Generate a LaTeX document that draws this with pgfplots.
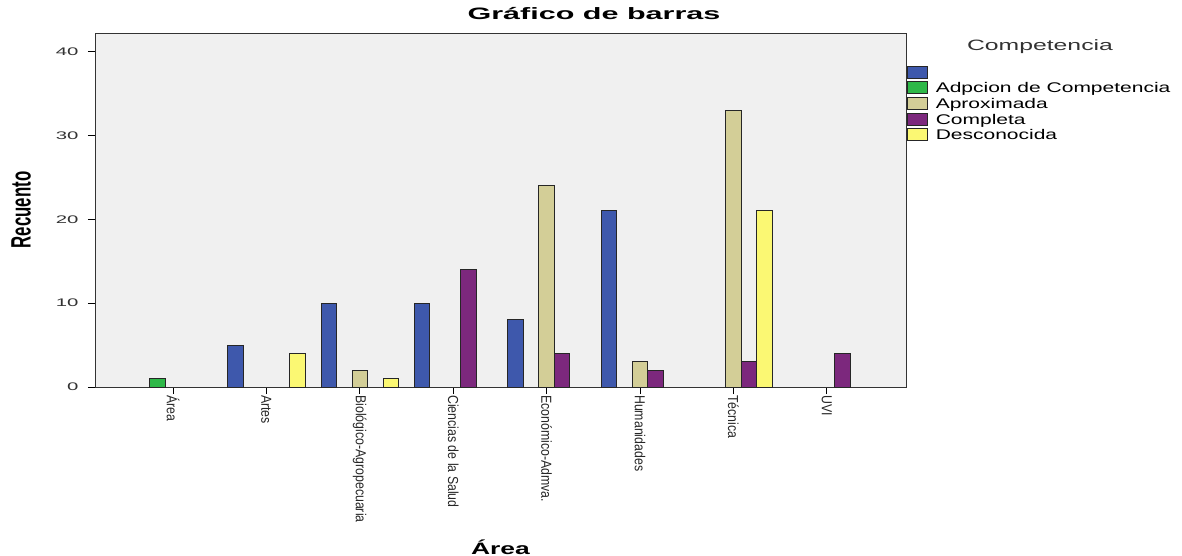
\documentclass[border=0pt]{standalone}
\usepackage{fontspec}
\setmainfont{Liberation Sans}
\newfontfamily\titlef[FakeStretch=1.85]{Liberation Sans}
\newfontfamily\xlabf[FakeStretch=1.6]{Liberation Sans}
\newfontfamily\ylabf[FakeStretch=0.6]{Liberation Sans}
\newfontfamily\legf[FakeStretch=1.5]{Liberation Sans}
\newfontfamily\legtf[FakeStretch=1.65]{Liberation Sans}
\newfontfamily\ytickf[FakeStretch=1.85]{Liberation Sans}
\newfontfamily\xtickf[FakeStretch=0.85]{Liberation Sans}
\usepackage{pgfplots}
\pgfplotsset{compat=1.18}
\definecolor{spssblue}{RGB}{62,88,172}
\definecolor{spssgreen}{RGB}{46,184,72}
\definecolor{spsstan}{RGB}{211,206,151}
\definecolor{spsspurple}{RGB}{124,40,125}
\definecolor{spssyellow}{RGB}{251,248,115}
\definecolor{bgc}{RGB}{240,240,240}
\definecolor{txtgray}{RGB}{50,50,50}
\pgfplotsset{
  mybar/.style={fill=#1, draw=black!85, line width=0.9pt,
    legend image code/.code={\draw[##1, draw=black!85, line width=0.8pt] (0pt,-6pt) rectangle (20pt,6pt);}}
}
\begin{document}
\begin{tikzpicture}
\begin{axis}[
  scale only axis,
  width=811pt, height=354pt,
  xmin=-0.835, xmax=7.848,
  ymin=0, ymax=42.2,
  ybar=0pt, bar width=15.5pt,
  clip=false,
  axis background/.style={fill=bgc},
  axis line style={black!80, line width=0.9pt},
  xtick={0,...,7},
  xticklabels={Área,Artes,Biológico-Agropecuaria,Ciencias de la Salud,Económico-Admva.,Humanidades,Técnica,UVI},
  xticklabel style={rotate=-90, anchor=west, font=\xtickf\fontsize{14.5}{16}\selectfont, text=black!85, inner sep=1pt},
  ytick={0,10,20,30,40},
  yticklabel style={font=\ytickf\fontsize{11}{13}\selectfont, text=txtgray, xshift=-6pt},
  /pgf/number format/assume math mode=true,
  tick align=outside,
  tick pos=left,
  major tick length=7pt,
  tick style={black, line width=0.8pt},
  title={Gráfico de barras},
  title style={font=\titlef\bfseries\fontsize{16.5}{18}\selectfont, at={(axis description cs:0.6153,1.0367)}, anchor=center},
  xlabel={Área},
  xlabel style={font=\xlabf\bfseries\fontsize{16.5}{18}\selectfont, at={(axis description cs:0.5,-0.452)}, anchor=center},
  ylabel={Recuento},
  ylabel style={font=\ylabf\bfseries\fontsize{28}{30}\selectfont, at={(axis description cs:-0.0912,0.5)}, anchor=center},
  legend cell align=left,
  legend style={draw=none, fill=none, at={(axis description cs:1.0012,0.9082)}, anchor=north west,
    font=\legf\fontsize{14}{16}\selectfont, row sep=2.7pt, column sep=8pt, inner sep=0pt, outer sep=0pt,
    nodes={inner sep=0pt, text height=11.5pt, text depth=1.5pt}},
]
\addplot[mybar=spssblue] coordinates {(1,5) (2,10) (3,10) (4,8) (5,21)};
\addlegendentry{}
\addplot[mybar=spssgreen] coordinates {(0,1)};
\addlegendentry{Adpcion de Competencia}
\addplot[mybar=spsstan] coordinates {(2,2) (4,24) (5,3) (6,33)};
\addlegendentry{Aproximada}
\addplot[mybar=spsspurple] coordinates {(3,14) (4,4) (5,2) (6,3) (7,4)};
\addlegendentry{Completa}
\addplot[mybar=spssyellow] coordinates {(1,4) (2,1) (6,21)};
\addlegendentry{Desconocida}
\node[font=\legtf\fontsize{15}{17}\selectfont, text=txtgray] at (axis description cs:1.1652,0.9605) {Competencia};
\coordinate (sw) at (axis description cs:0,0);
\end{axis}
\pgfresetboundingbox
\path (sw) ++(-95pt,-169pt) rectangle ++(1182pt,556pt);
\end{tikzpicture}
\end{document}
